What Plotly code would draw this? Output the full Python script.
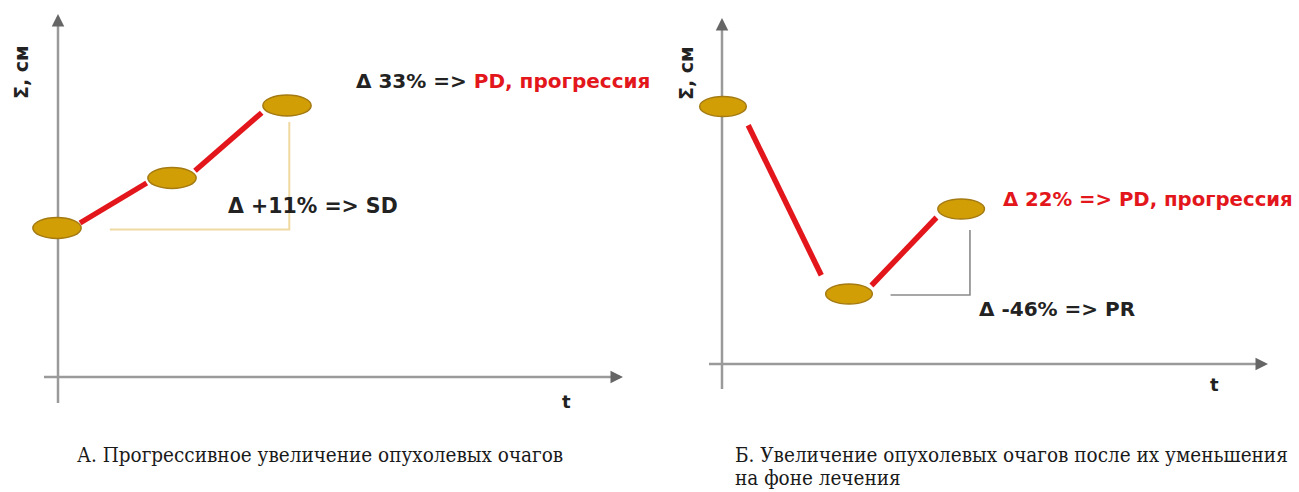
import plotly.graph_objects as go

# ---------------- data ----------------
a_t = [0, 1, 2]                 # panel A: time points
a_sum = [3.0, 4.0, 5.45]        # panel A: Σ, см (relative units)
b_t = [0, 1, 1.89]              # panel B: time points
b_sum = [5.15, 1.4, 3.1]        # panel B: Σ, см (relative units)

a_label_sd = "Δ +11% => SD"
a_label_pd = ("Δ 33% => ", "PD, прогрессия")
b_label_pd = "Δ 22% => PD, прогрессия"
b_label_pr = "Δ -46% => PR"
y_title = "Σ, см"
x_title = "t"
caption_a = "А. Прогрессивное увеличение опухолевых очагов"
caption_b = ["Б. Увеличение опухолевых очагов после их уменьшения", "на фоне лечения"]

# ---------------- layout helpers ----------------
W, H = 1299, 492
def px(x):
    return x / W
def py(y):
    return 1 - y / H

RED = "#E3161C"
GOLD = "#D29E06"
GOLD_EDGE = "#A47A12"
AXIS = "#9a9a9a"
TXT = "#222222"
SANS = "DejaVu Sans, Verdana, sans-serif"
SERIF = "DejaVu Serif Condensed, DejaVu Serif, Liberation Serif, serif"

fig = go.Figure()

def segments(t, v, fx=(0.2, 0.78), fy=(0.1, 0.9)):
    xs, ys = [], []
    for i in range(len(t) - 1):
        dt = t[i + 1] - t[i]
        dv = v[i + 1] - v[i]
        xs += [t[i] + fx[0] * dt, t[i] + fx[1] * dt, None]
        ys += [v[i] + fy[0] * dv, v[i] + fy[1] * dv, None]
    return xs, ys

# red connecting segments
xa, ya = segments(a_t, a_sum)
fig.add_trace(go.Scatter(x=xa, y=ya, mode="lines", line=dict(color=RED, width=5.5),
                         xaxis="x", yaxis="y", hoverinfo="skip"))
xb, yb = segments(b_t, b_sum)
fig.add_trace(go.Scatter(x=xb, y=yb, mode="lines", line=dict(color=RED, width=5.5),
                         xaxis="x2", yaxis="y2", hoverinfo="skip"))

# guide lines (delta construction)
fig.add_trace(go.Scatter(
    x=[a_t[0] + 0.46, a_t[2] + 0.02, a_t[2] + 0.02],
    y=[a_sum[0] - 0.03, a_sum[0] - 0.03, a_sum[2] - 0.33],
    mode="lines", line=dict(color="#F0D9A0", width=2),
    xaxis="x", yaxis="y", hoverinfo="skip"))
fig.add_trace(go.Scatter(
    x=[b_t[1] + 0.33, b_t[2] + 0.07, b_t[2] + 0.07],
    y=[b_sum[1] - 0.02, b_sum[1] - 0.02, b_sum[2] - 0.42],
    mode="lines", line=dict(color="#8a8a8a", width=1.6),
    xaxis="x2", yaxis="y2", hoverinfo="skip"))

shapes = []
# ellipse markers
for t, v in zip(a_t, a_sum):
    shapes.append(dict(type="circle", xref="x", yref="y",
                       x0=t - 0.21, x1=t + 0.21, y0=v - 0.21, y1=v + 0.21,
                       fillcolor=GOLD, line=dict(color=GOLD_EDGE, width=1.5)))
for t, v in zip(b_t, b_sum):
    shapes.append(dict(type="circle", xref="x2", yref="y2",
                       x0=t - 0.185, x1=t + 0.185, y0=v - 0.2, y1=v + 0.2,
                       fillcolor=GOLD, line=dict(color=GOLD_EDGE, width=1.5)))

# axis lines (drawn beneath)
def line(x0, y0, x1, y1):
    return dict(type="line", xref="paper", yref="paper", layer="below",
                x0=px(x0), y0=py(y0), x1=px(x1), y1=py(y1),
                line=dict(color=AXIS, width=2.5))
shapes += [line(58, 403, 58, 20), line(44, 377, 617, 377),
           line(722, 389, 722, 24), line(709, 364, 1262, 364)]

annotations = []
def head(x, y, ax, ay):
    annotations.append(dict(x=px(x), y=py(y), xref="paper", yref="paper",
                            ax=ax, ay=ay, showarrow=True, arrowhead=2,
                            arrowsize=1, arrowwidth=2.5, arrowcolor="#666666",
                            standoff=0, text=""))
head(58, 14, 0, 10)
head(623, 377, -10, 0)
head(722, 18, 0, 10)
head(1268, 364, -10, 0)

def text(x, y, s, size=20, color=TXT, xanchor="left", yanchor="middle",
         family=SANS, weight="bold", angle=0, align="left"):
    annotations.append(dict(x=px(x), y=py(y), xref="paper", yref="paper",
                            text=s, showarrow=False, xanchor=xanchor,
                            yanchor=yanchor, textangle=angle, align=align,
                            font=dict(family=family, size=size, color=color,
                                      weight=weight)))

text(226, 206, a_label_sd, size=20.5)
text(354, 81, a_label_pd[0] + "<span style='color:%s'>%s</span>" % (RED, a_label_pd[1]))
text(1001, 199, b_label_pd, size=19.7, color=RED)
text(977, 309, b_label_pr)

text(21, 72, y_title, size=19, xanchor="center", angle=-90)
text(686, 73, y_title, size=19, xanchor="center", angle=-90)
text(566, 401, x_title, size=18, xanchor="center")
text(1214, 384, x_title, size=18, xanchor="center")

text(75, 455, caption_a, size=20.5, family=SERIF, weight="normal", color="#1a1a1a")
text(733, 455, caption_b[0], size=20.5, family=SERIF, weight="normal", color="#1a1a1a")
text(733, 478, caption_b[1], size=20.5, family=SERIF, weight="normal", color="#1a1a1a")

ax_common = dict(visible=False, showgrid=False, zeroline=False, fixedrange=True)
fig.update_layout(
    width=W, height=H,
    margin=dict(l=0, r=0, t=0, b=0),
    paper_bgcolor="white", plot_bgcolor="white",
    showlegend=False,
    xaxis=dict(domain=[0, 0.5], range=[-57 / 115, 592.5 / 115], **ax_common),
    yaxis=dict(domain=[0, 1], range=[-114 / 50, 378 / 50], anchor="x", **ax_common),
    xaxis2=dict(domain=[0.5, 1], range=[-73.5 / 126, 576 / 126], anchor="y2", **ax_common),
    yaxis2=dict(domain=[0, 1], range=[-128 / 50, 364 / 50], anchor="x2", **ax_common),
    shapes=shapes,
    annotations=annotations,
)

fig.write_html("out.html", config={"displayModeBar": False},
               post_script="document.body.style.margin='0px';document.body.style.overflow='hidden';")
